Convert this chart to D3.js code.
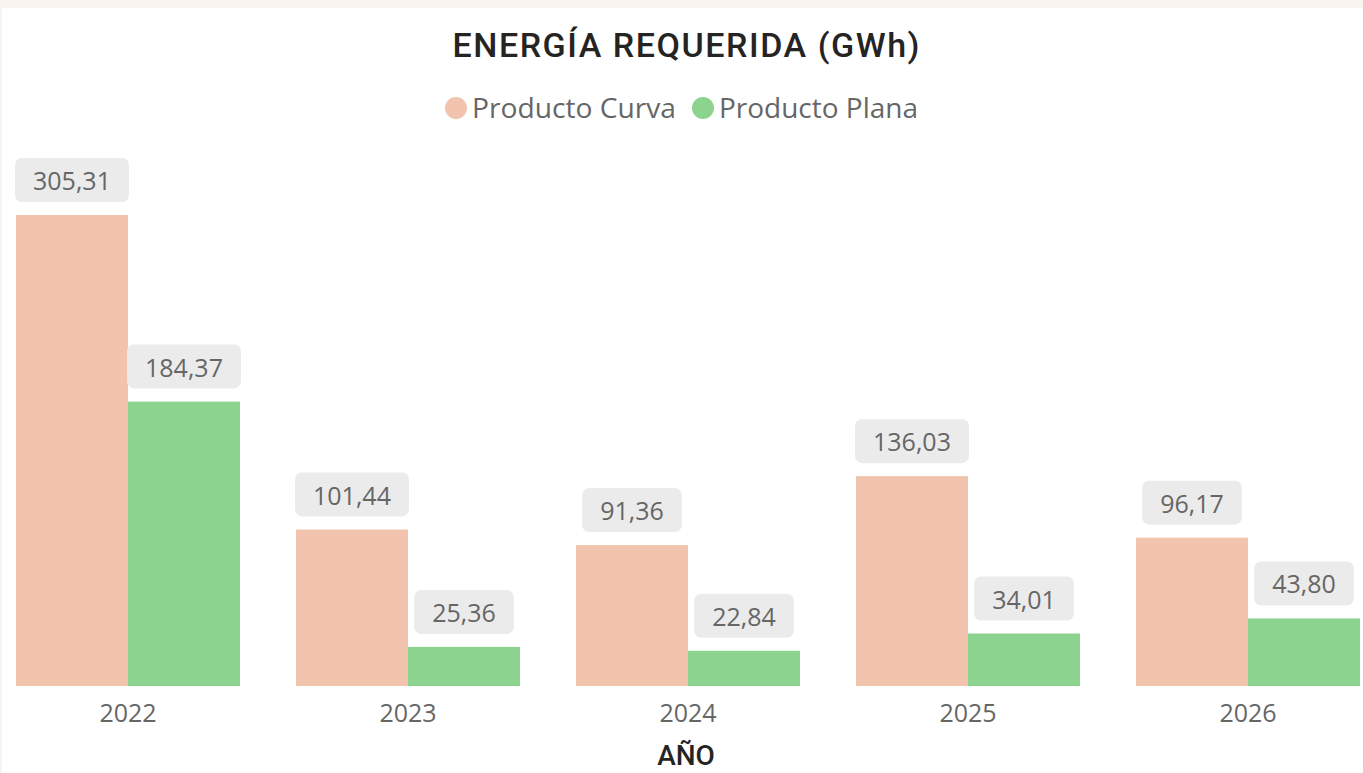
<!DOCTYPE html>
<html>
<head>
<meta charset="utf-8">
<script src="https://cdn.jsdelivr.net/npm/d3@7"></script>
<style>
  body { margin: 0; background: #f9f4f0; }
  svg { display: block; }
</style>
</head>
<body>
<div id="chart"></div>
<script>
var w = 1363;
var h = 773;

// data
var years = ["2022", "2023", "2024", "2025", "2026"];
var series = ["Producto Curva", "Producto Plana"];
var curva = [305.31, 101.44, 91.36, 136.03, 96.17];
var plana = [184.37, 25.36, 22.84, 34.01, 43.80];
var colors = ["#f3c4ad", "#8dd390"];

var rows = years.map(function (y, i) {
    return { year: y, values: [curva[i], plana[i]] };
});

var fmt = d3.formatLocale({ decimal: ",", thousands: ".", grouping: [3], currency: ["", ""] }).format(".2f");

var svg = d3.select("#chart")
    .append("svg")
    .attr("width", w)
    .attr("height", h);

// white panel
svg.append("rect")
    .attr("x", 2)
    .attr("y", 8)
    .attr("width", w - 2)
    .attr("height", h - 8)
    .attr("fill", "#ffffff");

var x0 = d3.scaleBand()
    .domain(years)
    .range([2, 1374])
    .paddingInner(0.2)
    .paddingOuter(0.05);

var x1 = d3.scaleBand()
    .domain(series)
    .range([0, x0.bandwidth()]);

var y = d3.scaleLinear()
    .domain([0, d3.max(curva)])
    .range([686, 215]);

// title
svg.append("text")
    .attr("x", 686)
    .attr("y", 57)
    .attr("text-anchor", "middle")
    .attr("font-family", "Roboto, sans-serif")
    .attr("font-weight", 500)
    .attr("font-size", "34px")
    .attr("textLength", 467)
    .attr("lengthAdjust", "spacing")
    .attr("fill", "#252423")
    .text("ENERGÍA REQUERIDA (GWh)");

// legend
var legendX = [456, 703];
var legend = svg.selectAll(".legend")
    .data(series)
    .enter()
    .append("g")
    .attr("class", "legend");

legend.append("circle")
    .attr("cx", function (d, i) { return legendX[i]; })
    .attr("cy", 108)
    .attr("r", 11)
    .attr("fill", function (d, i) { return colors[i]; });

legend.append("text")
    .attr("x", function (d, i) { return legendX[i] + 16; })
    .attr("y", 118)
    .attr("font-family", "'Open Sans', sans-serif")
    .attr("font-size", "27px")
    .attr("textLength", function (d, i) { return i === 0 ? 204 : 199; })
    .attr("lengthAdjust", "spacingAndGlyphs")
    .attr("fill", "#666666")
    .text(function (d) { return d; });

// bars
var groups = svg.selectAll(".group")
    .data(rows)
    .enter()
    .append("g")
    .attr("class", "group")
    .attr("transform", function (d) { return "translate(" + x0(d.year) + ",0)"; });

var cells = groups.selectAll(".cell")
    .data(function (d) {
        return d.values.map(function (v, i) { return { key: series[i], value: v, idx: i }; });
    })
    .enter()
    .append("g")
    .attr("class", "cell");

cells.append("rect")
    .attr("x", function (d) { return x1(d.key); })
    .attr("y", function (d) { return y(d.value); })
    .attr("width", x1.bandwidth())
    .attr("height", function (d) { return y(0) - y(d.value); })
    .attr("fill", function (d) { return colors[d.idx]; });

// data labels
var labels = cells.append("text")
    .attr("x", function (d) { return x1(d.key) + x1.bandwidth() / 2; })
    .attr("y", function (d) { return y(d.value) - 13 - 22 + 10; })
    .attr("text-anchor", "middle")
    .attr("font-family", "'Open Sans', sans-serif")
    .attr("font-size", "25px")
    .attr("fill", "#666666")
    .text(function (d) { return fmt(d.value); });

labels.each(function (d) {
    var tw = this.getComputedTextLength();
    d3.select(this.parentNode)
        .insert("rect", "text")
        .attr("x", x1(d.key) + x1.bandwidth() / 2 - tw / 2 - 18)
        .attr("y", y(d.value) - 13 - 44)
        .attr("width", tw + 36)
        .attr("height", 44)
        .attr("rx", 7)
        .attr("fill", "#ebebeb");
});

// x axis
var xAxis = svg.append("g")
    .attr("transform", "translate(0,686)")
    .call(d3.axisBottom(x0).tickSize(0).tickPadding(18));

xAxis.select(".domain").remove();
xAxis.selectAll("text")
    .attr("font-family", "'Open Sans', sans-serif")
    .attr("font-size", "25px")
    .attr("fill", "#666666");

svg.append("text")
    .attr("x", 686)
    .attr("y", 765)
    .attr("text-anchor", "middle")
    .attr("font-family", "Roboto, sans-serif")
    .attr("font-weight", 500)
    .attr("font-size", "28px")
    .attr("fill", "#252423")
    .text("AÑO");
</script>
</body>
</html>
